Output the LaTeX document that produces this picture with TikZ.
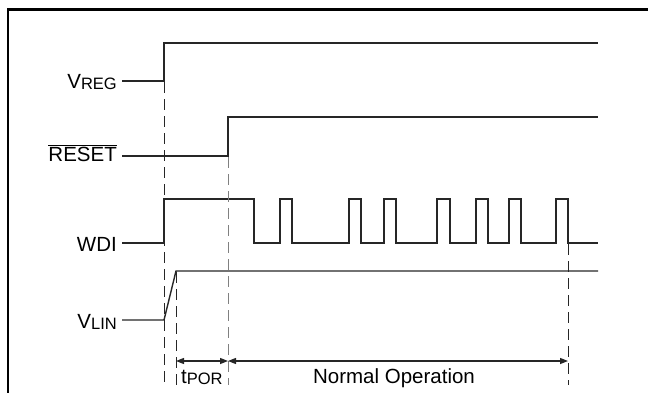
\documentclass[tikz,border=0pt]{standalone}
\usepackage{fontspec}
\setmainfont{Liberation Sans}
\usetikzlibrary{arrows.meta}
\newcommand\subtx[1]{{\fontsize{16.5}{19}\selectfont\raisebox{-1.3pt}{#1}}}
\begin{document}
\begin{tikzpicture}[x=1pt,y=-1pt,
  sig/.style={line width=1.4pt, draw=black!85, line join=miter},
  guide/.style={line width=1pt, draw=black!85, dash pattern=on 11pt off 6pt},
  guidegray/.style={guide, draw=black!50},
  dim/.style={line width=1.3pt, draw=black!85, {Triangle[length=8pt,width=6pt]}-{Triangle[length=8pt,width=6pt]}},
  lbl/.style={anchor=base east, inner sep=0pt, font=\fontsize{20.5}{23}\selectfont},
  txt/.style={inner sep=0pt, font=\fontsize{20.5}{23}\selectfont}]
\useasboundingbox (0,0) rectangle (648,392);
\clip (0,0) rectangle (648,392);
\draw[line width=2.5pt] (8,9.3) rectangle (720,460);
% labels
\node[lbl] (vreg) at (117,88) {V\subtx{REG}};
\node[lbl] (reset) at (117,161) {$\overline{\mbox{RESET}}$};
\node[lbl] (wdi) at (117,251) {WDI};
\node[lbl] (vlin) at (117,328) {V\subtx{LIN}};
% key points
\coordinate (vr0) at (122,81);
\coordinate (rs0) at (122,156);
\coordinate (wd0) at (122,243);
\coordinate (vl0) at (122,320);
\coordinate (vlr) at (176,271);
% waveforms
\draw[sig] (vr0) -- (164,81) -- (164,43) -- (598,43);
\draw[sig] (rs0) -- (228,156) -- (228,117) -- (598,117);
\draw[sig] (wd0) -- (164,243) -- (164,199) -- (254,199) -- (254,243)
  -- (280,243) -- (280,199) -- (292,199) -- (292,243)
  -- (349,243) -- (349,199) -- (361,199) -- (361,243)
  -- (384,243) -- (384,199) -- (396,199) -- (396,243)
  -- (437,243) -- (437,199) -- (450,199) -- (450,243)
  -- (476,243) -- (476,199) -- (488,199) -- (488,243)
  -- (509,243) -- (509,199) -- (521,199) -- (521,243)
  -- (556,243) -- (556,199) -- (568,199) -- (568,243) -- (598,243);
\draw[sig] (vl0) -- (164,320) -- (vlr) -- (598,271);
% guides
\coordinate (g1a) at (164,82);  \coordinate (g1b) at (164,385);
\coordinate (g2a) at (176,272); \coordinate (g2b) at (176,385);
\coordinate (g3a) at (228,157); \coordinate (g3b) at (228,385);
\coordinate (g4a) at (568,244); \coordinate (g4b) at (568,385);
\draw[guide] (g1a) -- (g1b);
\draw[guide] (g2a) -- (g2b);
\draw[guidegray] (g3a) -- (g3b);
\draw[guide] (g4a) -- (g4b);
% dimension arrows
\coordinate (a1) at (176,361);
\coordinate (a2) at (228,361);
\coordinate (a3) at (568,361);
\draw[dim] (a1) -- (a2);
\draw[dim] (a2) -- (a3);
\node[txt, anchor=base west] (tpor) at (181,383) {t\subtx{POR}};
\node[txt, anchor=base] (normop) at (394,383) {Normal Operation};
\end{tikzpicture}
\end{document}
